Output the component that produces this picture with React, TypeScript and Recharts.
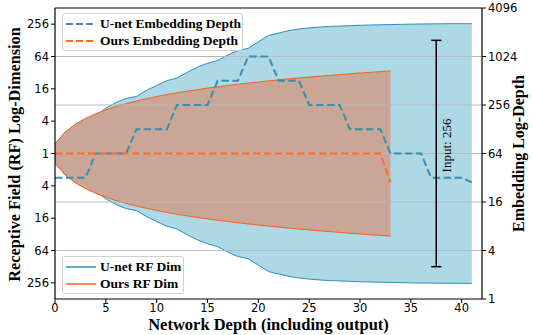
import React from 'react';
import {
  ComposedChart,
  Area,
  Line,
  XAxis,
  YAxis,
  ReferenceLine,
  Label,
} from 'recharts';

// ---- data ----
const depth = [
  0, 1, 2, 3, 4, 5, 6, 7, 8, 9, 10, 11, 12, 13, 14, 15, 16, 17, 18, 19, 20,
  21, 22, 23, 24, 25, 26, 27, 28, 29, 30, 31, 32, 33, 34, 35, 36, 37, 38, 39,
  40, 41,
];
const unetRFDim = [
  1.5, 2.5, 3.5, 4.4, 5, 7, 8.9, 10.6, 11.5, 15, 18.5, 22.6, 25.5, 32.5, 40.5,
  48, 54, 68, 83, 91, 120, 158, 175, 194, 208, 218, 226, 232, 236, 240, 244,
  247, 249, 252, 254, 256, 258, 259, 260, 261, 261, 261,
];
const oursRFDim = [
  1.5, 2.5, 3.5, 4.5, 5.5, 6.5, 7.5, 8.5, 9.5, 10.5, 11.5, 12.5, 13.5, 14.5,
  15.5, 16.5, 17.5, 18.5, 19.5, 20.5, 21.5, 22.5, 23.5, 24.5, 25.5, 26.5, 27.5,
  28.5, 29.5, 30.5, 31.5, 32.5, 33.5, 34.5,
];
const unetEmbDepth = [
  32, 32, 32, 32, 64, 64, 64, 64, 128, 128, 128, 128, 256, 256, 256, 256, 512,
  512, 512, 1024, 1024, 1024, 512, 512, 512, 256, 256, 256, 256, 128, 128, 128,
  128, 64, 64, 64, 64, 32, 32, 32, 32, 28,
];
const oursEmbDepth = [
  64, 64, 64, 64, 64, 64, 64, 64, 64, 64, 64, 64, 64, 64, 64, 64, 64, 64, 64,
  64, 64, 64, 64, 64, 64, 64, 64, 64, 64, 64, 64, 64, 64, 28,
];
const inputDim = 256;
const inputBarDepth = 37.5;

const xTicks = [0, 5, 10, 15, 20, 25, 30, 35, 40];
const leftTicks = [-8, -6, -4, -2, 0, 2, 4, 6, 8];
const rightTicks = [0, 2, 4, 6, 8, 10, 12];
const gridLevels = [2, 4, 6, 8, 10];

const NAMES = {
  unetEmb: 'U-net Embedding Depth',
  oursEmb: 'Ours Embedding Depth',
  unetRF: 'U-net RF Dim',
  oursRF: 'Ours RF Dim',
};

const C = {
  unetFill: '#add8e6',
  unetLine: '#2a8fbd',
  unetDash: '#3a8dae',
  oursFill: '#c9a696',
  oursLine: '#ff5b1f',
  oursDash: '#ff6a2a',
  grid: '#b8b8b8',
};

const data = depth.map((d, i) => {
  const u = Math.log2(unetRFDim[i]);
  const o = i < oursRFDim.length ? Math.log2(oursRFDim[i]) : null;
  return {
    depth: d,
    unetRF: [-u, u],
    oursRF: o === null ? null : [-o, o],
    unetEmb: Math.log2(unetEmbDepth[i]),
    oursEmb: i < oursEmbDepth.length ? Math.log2(oursEmbDepth[i]) : null,
  };
});

const half = Math.log2(inputDim / 2);

const serifBold: React.CSSProperties = {
  fontFamily: '"Liberation Serif", "Times New Roman", serif',
  fontWeight: 'bold',
};

const LegendRow = ({ color, dashed, text }: { color: string; dashed: boolean; text: string }) => (
  <div style={{ display: 'flex', alignItems: 'center', height: 17 }}>
    <svg width={32} height={10} style={{ marginRight: 3 }}>
      <line
        x1={1}
        y1={5}
        x2={31}
        y2={5}
        stroke={color}
        strokeWidth={dashed ? 2 : 1.5}
        strokeDasharray={dashed ? '7 3' : undefined}
      />
    </svg>
    <span style={{ ...serifBold, fontSize: 13.5, color: '#000', whiteSpace: 'nowrap', lineHeight: '17px' }}>{text}</span>
  </div>
);

const boxStyle: React.CSSProperties = {
  position: 'absolute',
  background: 'rgba(255,255,255,0.85)',
  border: '1px solid #d0d0d0',
  borderRadius: 3,
  padding: '1px 0 1px 2px',
  boxSizing: 'border-box',
};

const tickStyle = {
  fontFamily: '"DejaVu Sans", sans-serif',
  fontSize: 11.5,
  fill: '#000',
};

export default function App() {
  return (
    <div style={{ position: 'absolute', left: 0, top: 0, width: 533, height: 335, background: '#fff' }}>
      <ComposedChart
        width={533}
        height={335}
        data={data}
        margin={{ top: 8, right: 0, bottom: 0, left: 0 }}
      >
        <XAxis
          dataKey="depth"
          type="number"
          domain={[0, 42]}
          ticks={xTicks}
          allowDataOverflow
          height={36}
          tick={tickStyle}
          tickSize={4}
          tickMargin={1}
          axisLine={{ stroke: '#000', strokeWidth: 1.2 }}
          tickLine={{ stroke: '#000' }}
        >
          <Label
            content={(props: any) => {
              const vb = props.viewBox || { x: 55, y: 299, width: 427, height: 36 };
              return (
                <text
                  x={vb.x + vb.width / 2}
                  y={vb.y + vb.height - 5}
                  textAnchor="middle"
                  style={{ ...serifBold, fontSize: 16.5 }}
                  fill="#000"
                >
                  Network Depth (including output)
                </text>
              );
            }}
          />
        </XAxis>
        <YAxis
          yAxisId="left"
          type="number"
          domain={[-9, 9]}
          ticks={leftTicks}
          allowDataOverflow
          width={55}
          tick={tickStyle}
          tickSize={4}
          tickMargin={2}
          tickFormatter={(v: number) => String(2 ** Math.abs(v))}
          axisLine={{ stroke: '#000', strokeWidth: 1.2 }}
          tickLine={{ stroke: '#000' }}
        >
          <Label
            content={(props: any) => {
              const vb = props.viewBox || { x: 0, y: 8, width: 55, height: 291 };
              const cx = vb.x + 20;
              const cy = vb.y + vb.height / 2 + 1;
              return (
                <text
                  x={cx}
                  y={cy}
                  transform={`rotate(-90 ${cx} ${cy})`}
                  textAnchor="middle"
                  style={{ ...serifBold, fontSize: 16.3 }}
                  fill="#000"
                >
                  Receptive Field (RF) Log-Dimension
                </text>
              );
            }}
          />
        </YAxis>
        <YAxis
          yAxisId="right"
          orientation="right"
          type="number"
          domain={[0, 12]}
          ticks={rightTicks}
          allowDataOverflow
          width={51}
          tick={tickStyle}
          tickSize={4}
          tickMargin={2}
          tickFormatter={(v: number) => String(2 ** v)}
          axisLine={{ stroke: '#000', strokeWidth: 1.2 }}
          tickLine={{ stroke: '#000' }}
        >
          <Label
            content={(props: any) => {
              const vb = props.viewBox || { x: 482, y: 8, width: 51, height: 291 };
              const cx = vb.x + 42;
              const cy = vb.y + vb.height / 2;
              return (
                <text
                  x={cx}
                  y={cy}
                  transform={`rotate(-90 ${cx} ${cy})`}
                  textAnchor="middle"
                  style={{ ...serifBold, fontSize: 16 }}
                  fill="#000"
                >
                  Embedding Log-Depth
                </text>
              );
            }}
          />
        </YAxis>

        <Area
          yAxisId="left"
          dataKey="unetRF"
          name={NAMES.unetRF}
          type="linear"
          fill={C.unetFill}
          fillOpacity={1}
          stroke={C.unetLine}
          strokeWidth={1}
          isAnimationActive={false}
          dot={false}
          activeDot={false}
        />
        <Area
          yAxisId="left"
          dataKey="oursRF"
          name={NAMES.oursRF}
          type="linear"
          fill={C.oursFill}
          fillOpacity={1}
          stroke={C.oursLine}
          strokeWidth={1}
          isAnimationActive={false}
          dot={false}
          activeDot={false}
        />

        {gridLevels.map((g) => (
          <ReferenceLine key={g} yAxisId="right" y={g} stroke={C.grid} strokeWidth={1} />
        ))}
        <ReferenceLine yAxisId="left" y={9} stroke="#000" strokeWidth={1.2} />

        <Line
          yAxisId="right"
          dataKey="unetEmb"
          name={NAMES.unetEmb}
          type="linear"
          stroke={C.unetDash}
          strokeWidth={2}
          strokeDasharray="7.5 3.5"
          dot={false}
          activeDot={false}
          isAnimationActive={false}
        />
        <Line
          yAxisId="right"
          dataKey="oursEmb"
          name={NAMES.oursEmb}
          type="linear"
          stroke={C.oursDash}
          strokeWidth={2}
          strokeDasharray="7.5 3.5"
          dot={false}
          activeDot={false}
          isAnimationActive={false}
        />

        <ReferenceLine
          yAxisId="left"
          segment={[
            { x: inputBarDepth, y: -half },
            { x: inputBarDepth, y: half },
          ]}
          stroke="#000"
          strokeWidth={1.5}
        >
          <Label
            content={(props: any) => {
              const vb = props.viewBox || { x: 436, y: 40, width: 0, height: 227 };
              const cx = vb.x + 12;
              const cy = vb.y + vb.height / 2 - 8;
              return (
                <text
                  x={cx}
                  y={cy}
                  transform={`rotate(-90 ${cx} ${cy})`}
                  textAnchor="middle"
                  dominantBaseline="middle"
                  style={{ fontFamily: '"Liberation Serif", "Times New Roman", serif', fontSize: 13 }}
                  fill="#000"
                >
                  {`Input: ${inputDim}`}
                </text>
              );
            }}
          />
        </ReferenceLine>
        <ReferenceLine
          yAxisId="left"
          segment={[
            { x: inputBarDepth - 0.5, y: half },
            { x: inputBarDepth + 0.5, y: half },
          ]}
          stroke="#000"
          strokeWidth={1.5}
        />
        <ReferenceLine
          yAxisId="left"
          segment={[
            { x: inputBarDepth - 0.5, y: -half },
            { x: inputBarDepth + 0.5, y: -half },
          ]}
          stroke="#000"
          strokeWidth={1.5}
        />
      </ComposedChart>
      <div style={{ ...boxStyle, left: 62, top: 13, width: 181, height: 38 }}>
        <LegendRow color={C.unetDash} dashed text={NAMES.unetEmb} />
        <LegendRow color={C.oursDash} dashed text={NAMES.oursEmb} />
      </div>
      <div style={{ ...boxStyle, left: 62, top: 256, width: 122, height: 38 }}>
        <LegendRow color={C.unetLine} dashed={false} text={NAMES.unetRF} />
        <LegendRow color={C.oursLine} dashed={false} text={NAMES.oursRF} />
      </div>
    </div>
  );
}
